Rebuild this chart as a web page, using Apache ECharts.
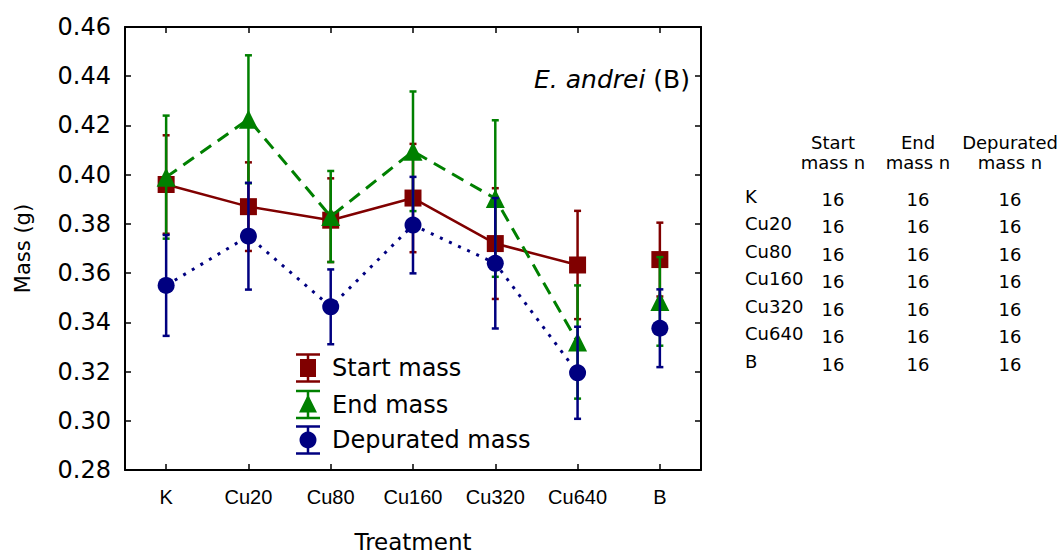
<!DOCTYPE html>
<html>
<head>
<meta charset="utf-8">
<script src="https://cdn.jsdelivr.net/npm/echarts@6/dist/echarts.min.js"></script>
<style>
html,body{margin:0;padding:0;background:#fff;}
#chart{width:1059px;height:555px;}
</style>
</head>
<body>
<div id="chart"></div>
<script>
// ---- data ----
const categories = ['K', 'Cu20', 'Cu80', 'Cu160', 'Cu320', 'Cu640', 'B'];
const connected = [true, true, true, true, true, true, false];
const startMass = [0.396, 0.387, 0.3815, 0.3905, 0.372, 0.3633, 0.3655];
const startErr  = [0.020, 0.018, 0.017, 0.022, 0.0225, 0.022, 0.015];
const endMass   = [0.399, 0.4225, 0.383, 0.4095, 0.3903, 0.332, 0.3485];
const endErr    = [0.025, 0.026, 0.0185, 0.0243, 0.0318, 0.023, 0.018];
const depMass   = [0.355, 0.375, 0.3463, 0.3795, 0.364, 0.3195, 0.3376];
const depErr    = [0.0205, 0.0217, 0.0152, 0.0196, 0.0265, 0.0187, 0.0158];
const seriesNames = ['Start mass', 'End mass', 'Depurated mass'];
const yMin = 0.28, yMax = 0.46, yStep = 0.02;
const tableHeads = [['Start', 'mass n'], ['End', 'mass n'], ['Depurated', 'mass n']];
const startN = [16, 16, 16, 16, 16, 16, 16];
const endN   = [16, 16, 16, 16, 16, 16, 16];
const depN   = [16, 16, 16, 16, 16, 16, 16];

// ---- styles ----
const colors = ['#800000', '#008000', '#000080'];
const symbols = ['rect', 'triangle', 'circle'];
const symSizes = [17, 19, 17];
const lineTypes = ['solid', [13, 8], [3, 7]];
const FONT = 'DejaVu Sans';

const vals = [startMass, endMass, depMass];
const errs = [startErr, endErr, depErr];

function errRender(color) {
  return function (params, api) {
    const x = api.value(0), v = api.value(1), e = api.value(2);
    const t = api.coord([x, v + e]);
    const b = api.coord([x, v - e]);
    const hw = 3.5;
    const st = { stroke: color, lineWidth: 2.5 };
    return {
      type: 'group',
      children: [
        { type: 'line', shape: { x1: t[0], y1: t[1], x2: b[0], y2: b[1] }, style: st },
        { type: 'line', shape: { x1: t[0] - hw, y1: t[1], x2: t[0] + hw, y2: t[1] }, style: st },
        { type: 'line', shape: { x1: b[0] - hw, y1: b[1], x2: b[0] + hw, y2: b[1] }, style: st }
      ]
    };
  };
}

const series = [];
for (let s = 0; s < 3; s++) {
  const base = 2 + s * 3;
  series.push({
    name: seriesNames[s] + ' line',
    type: 'line',
    data: vals[s].map((v, i) => connected[i] ? v : '-'),
    symbol: 'none',
    connectNulls: false,
    lineStyle: { color: colors[s], width: s === 0 ? 2.5 : 3, type: lineTypes[s] },
    z: base,
    silent: true
  });
  series.push({
    name: seriesNames[s] + ' err',
    type: 'custom',
    data: vals[s].map((v, i) => [i, v, errs[s][i]]),
    encode: { x: 0, y: 1 },
    renderItem: errRender(colors[s]),
    z: base + 1,
    silent: true
  });
  series.push({
    name: seriesNames[s],
    type: 'scatter',
    data: vals[s],
    symbol: symbols[s],
    symbolSize: symSizes[s],
    itemStyle: { color: colors[s], opacity: 1 },
    z: base + 2,
    silent: true
  });
}

// ---- graphics: title, legend, table ----
const graphic = [];
graphic.push({
  type: 'text', x: 690, y: 79,
  style: {
    text: '{i|E. andrei} (B)',
    font: '25px "' + FONT + '"',
    fill: '#000', align: 'right', verticalAlign: 'middle',
    rich: { i: { fontStyle: 'italic', fontSize: 25, fontFamily: FONT, fill: '#000' } }
  }
});

const legX = 308, legTextX = 332, legY = [368, 404.5, 440];
for (let s = 0; s < 3; s++) {
  const cy = legY[s];
  const st = { stroke: colors[s], lineWidth: 2.5 };
  graphic.push({ type: 'line', shape: { x1: legX, y1: cy - 13.5, x2: legX, y2: cy + 13.5 }, style: st });
  graphic.push({ type: 'line', shape: { x1: legX - 12, y1: cy - 13.5, x2: legX + 12, y2: cy - 13.5 }, style: st });
  graphic.push({ type: 'line', shape: { x1: legX - 12, y1: cy + 13.5, x2: legX + 12, y2: cy + 13.5 }, style: st });
  if (s === 0) {
    graphic.push({ type: 'rect', shape: { x: legX - 8, y: cy - 9, width: 16, height: 18 }, style: { fill: colors[s] } });
  } else if (s === 1) {
    graphic.push({ type: 'polygon', shape: { points: [[legX, cy - 10], [legX + 9, cy + 8], [legX - 9, cy + 8]] }, style: { fill: colors[s] } });
  } else {
    graphic.push({ type: 'circle', shape: { cx: legX, cy: cy, r: 8.5 }, style: { fill: colors[s] } });
  }
  graphic.push({
    type: 'text', x: legTextX, y: cy,
    style: { text: seriesNames[s], font: '24px "' + FONT + '"', fill: '#000', align: 'left', verticalAlign: 'middle' }
  });
}

const colX = [833, 918, 1010];
const headY = [142.5, 162];
const rowY0 = 196, rowStep = 27.5, rowLabelX = 745;
const nCols = [startN, endN, depN];
const tfont = '18px "' + FONT + '"';
for (let c = 0; c < 3; c++) {
  for (let l = 0; l < 2; l++) {
    graphic.push({ type: 'text', x: colX[c], y: headY[l],
      style: { text: tableHeads[c][l], font: tfont, fill: '#000', align: 'center', verticalAlign: 'middle' } });
  }
}
for (let r = 0; r < categories.length; r++) {
  const y = rowY0 + r * rowStep;
  graphic.push({ type: 'text', x: rowLabelX, y: y,
    style: { text: categories[r], font: tfont, fill: '#000', align: 'left', verticalAlign: 'middle' } });
  for (let c = 0; c < 3; c++) {
    graphic.push({ type: 'text', x: colX[c], y: y + 3,
      style: { text: String(nCols[c][r]), font: tfont, fill: '#000', align: 'center', verticalAlign: 'middle' } });
  }
}

const tickStyle = { color: '#000', width: 1.5 };
const axisLineStyle = { color: '#000', width: 2 };

const option = {
  backgroundColor: '#fff',
  animation: false,
  grid: { left: 125, top: 27, right: 358, bottom: 85, containLabel: false, outerBoundsMode: 'none' },
  xAxis: [
    {
      type: 'category', data: categories, boundaryGap: true,
      axisLine: { show: true, lineStyle: axisLineStyle },
      axisTick: { show: true, alignWithLabel: true, inside: true, length: 6, lineStyle: tickStyle },
      axisLabel: { fontSize: 20, fontFamily: 'Liberation Sans', color: '#000', margin: 17 },
      splitLine: { show: false },
      name: 'Treatment', nameLocation: 'middle', nameGap: 60,
      nameTextStyle: { fontSize: 23, fontFamily: FONT, color: '#000' }
    },
    {
      type: 'category', data: categories, boundaryGap: true, position: 'top',
      axisLine: { show: true, lineStyle: axisLineStyle },
      axisTick: { show: true, alignWithLabel: true, inside: true, length: 6, lineStyle: tickStyle },
      axisLabel: { show: false }, splitLine: { show: false }
    }
  ],
  yAxis: [
    {
      type: 'value', min: yMin, max: yMax, interval: yStep,
      axisLine: { show: true, lineStyle: axisLineStyle },
      axisTick: { show: true, inside: true, length: 6, lineStyle: tickStyle },
      axisLabel: { fontSize: 24, fontFamily: FONT, color: '#000', margin: 14, formatter: v => v.toFixed(2) },
      splitLine: { show: false },
      name: 'Mass (g)', nameLocation: 'middle', nameGap: 92, nameRotate: 90,
      nameTextStyle: { fontSize: 21, fontFamily: FONT, color: '#000' }
    },
    {
      type: 'value', min: yMin, max: yMax, interval: yStep, position: 'right',
      axisLine: { show: true, lineStyle: axisLineStyle },
      axisTick: { show: true, inside: true, length: 6, lineStyle: tickStyle },
      axisLabel: { show: false }, splitLine: { show: false }
    }
  ],
  series: series,
  graphic: graphic
};

const chart = echarts.init(document.getElementById('chart'), null, { renderer: 'svg' });
chart.setOption(option);
</script>
</body>
</html>
